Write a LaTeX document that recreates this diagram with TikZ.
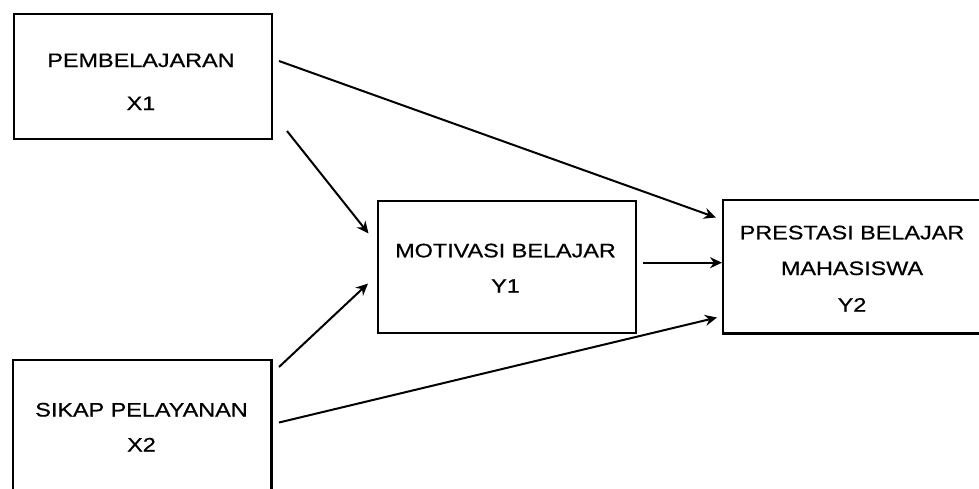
\documentclass[tikz,border=0pt]{standalone}
\usepackage{fontspec}
\setmainfont[FakeStretch=1.2,FakeBold=0.6]{Liberation Sans}
\usetikzlibrary{arrows.meta}
\begin{document}
\begin{tikzpicture}[x=1pt,y=-1pt,
  box/.style={draw=black,line width=2.2pt,rectangle,anchor=north west,inner sep=0pt},
  openbox/.style={rectangle,anchor=north west,inner sep=0pt},
  edge/.style={draw=black,line width=2.2pt},
  lbl/.style={anchor=base,inner sep=0pt,font=\fontsize{19.5}{23}\selectfont},
  arr/.style={line width=2pt,-{Stealth[length=12pt,width=11pt]}}]
\useasboundingbox (0,0) rectangle (979,488);
% boxes
\node[box,minimum width=258pt,minimum height=125pt] (x1) at (13,13) {};
\node[openbox,minimum width=258pt,minimum height=140pt] (x2) at (13,360) {};
\draw[edge] (x2.south west) -- (x2.north west) -- (x2.north east) -- (x2.south east);
\node[box,minimum width=258pt,minimum height=132pt] (y1) at (377,200) {};
\node[openbox,minimum width=270pt,minimum height=133pt] (y2) at (723,200) {};
\draw[edge] (y2.north east) -- (y2.north west) -- (y2.south west) -- (y2.south east);
% texts
\node[lbl] (x1a) at (141,67) {PEMBELAJARAN};
\node[lbl] (x1b) at (141,110) {X1};
\node[lbl] (x2a) at (141.5,416.5) {SIKAP PELAYANAN};
\node[lbl] (x2b) at (141.5,451.5) {X2};
\node[lbl] (y1a) at (505.5,257.3) {MOTIVASI BELAJAR};
\node[lbl] (y1b) at (505.5,292.7) {Y1};
\node[lbl] (y2a) at (852,239.3) {PRESTASI BELAJAR};
\node[lbl] (y2b) at (852,275) {MAHASISWA};
\node[lbl] (y2c) at (852,311.7) {Y2};
% connector ends
\coordinate (s1) at (279,61);   \coordinate (e1) at (716,217.5);
\coordinate (s2) at (287,131);  \coordinate (e2) at (368.5,233.5);
\coordinate (s3) at (279,367);  \coordinate (e3) at (368,283.5);
\coordinate (s4) at (279,422.5);\coordinate (e4) at (717,317.5);
\coordinate (s5) at (643,262.7);\coordinate (e5) at (722,262.7);
\draw[arr] (s1) -- (e1);
\draw[arr] (s2) -- (e2);
\draw[arr] (s3) -- (e3);
\draw[arr] (s4) -- (e4);
\draw[arr] (s5) -- (e5);
\end{tikzpicture}
\end{document}
